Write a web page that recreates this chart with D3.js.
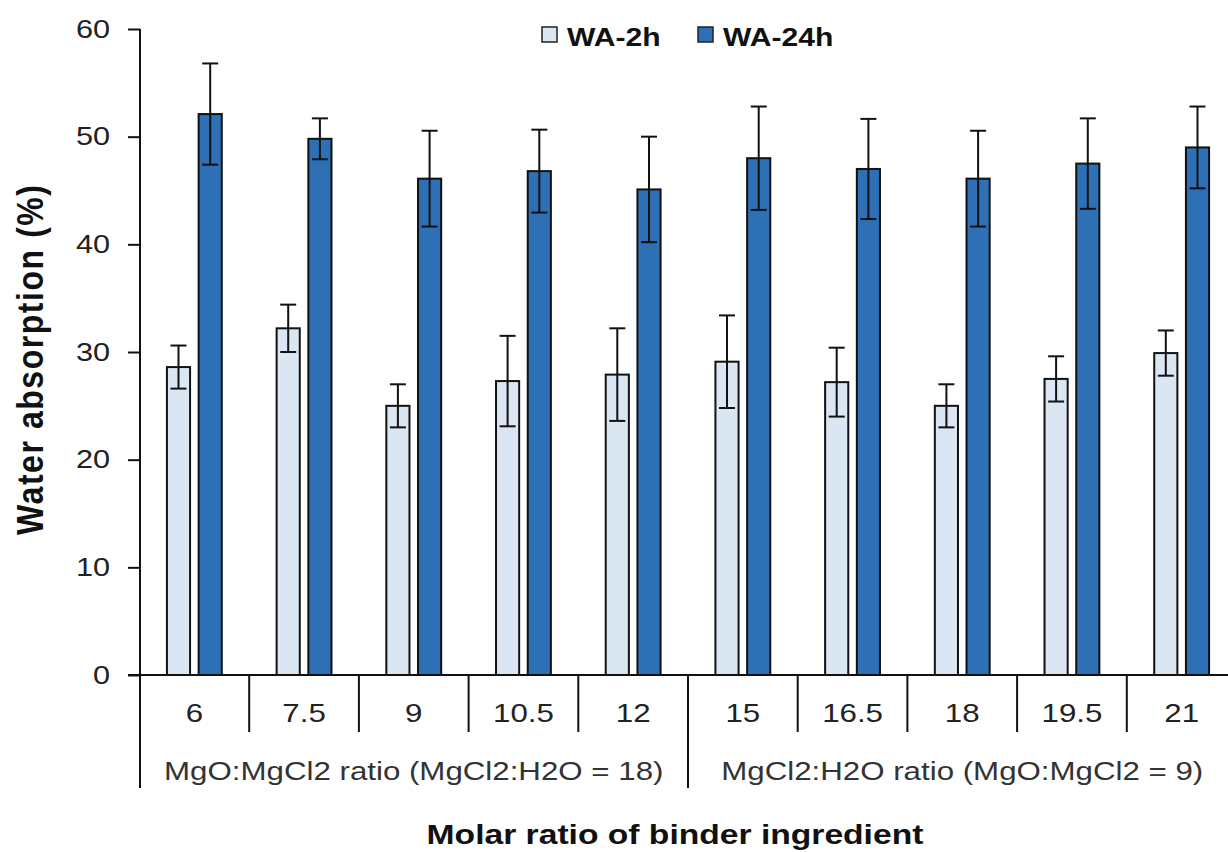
<!DOCTYPE html>
<html>
<head>
<meta charset="utf-8">
<script src="https://cdn.jsdelivr.net/npm/d3@7"></script>
<style>
  body { margin: 0; background: #fff; }
  svg { display: block; font-family: "Liberation Sans", Arial, sans-serif; }
</style>
</head>
<body>
<svg id="chart"></svg>
<script>
const categories = ["6", "7.5", "9", "10.5", "12", "15", "16.5", "18", "19.5", "21"];
const seriesNames = ["WA-2h", "WA-24h"];
const wa2h = [28.6, 32.2, 25.0, 27.3, 27.9, 29.1, 27.2, 25.0, 27.5, 29.9];
const wa2hErr = [2.0, 2.2, 2.0, 4.2, 4.3, 4.3, 3.2, 2.0, 2.1, 2.1];
const wa24h = [52.1, 49.8, 46.1, 46.8, 45.1, 48.0, 47.0, 46.1, 47.5, 49.0];
const wa24hErr = [4.7, 1.9, 4.45, 3.85, 4.9, 4.8, 4.65, 4.45, 4.2, 3.8];
const groupLabels = ["MgO:MgCl2 ratio (MgCl2:H2O = 18)", "MgCl2:H2O ratio (MgO:MgCl2 = 9)"];
const groupStarts = [0, 5];
const yTicks = [0, 10, 20, 30, 40, 50, 60];

const width = 1228, height = 852;
const colors = { "WA-2h": "#dbe6f3", "WA-24h": "#2e70b6" };
const sx = 1.18; // the source picture is stretched a bit horizontally

const svg = d3.select("#chart").attr("width", width).attr("height", height);

const x0 = d3.scaleBand()
    .domain(categories)
    .range([139.5, 1236.5])
    .paddingInner(0.5)
    .paddingOuter(0.25);

const x1 = d3.scaleBand()
    .domain(seriesNames)
    .range([0, x0.bandwidth()])
    .paddingInner(0.27);

const y = d3.scaleLinear().domain([0, 60]).range([675, 29]);

const rows = categories.map((c, i) => ({
    cat: c,
    values: [
        { key: "WA-2h", v: wa2h[i], e: wa2hErr[i] },
        { key: "WA-24h", v: wa24h[i], e: wa24hErr[i] }
    ]
}));

// bars
const grp = svg.append("g").selectAll("g")
    .data(rows)
    .join("g")
    .attr("transform", d => `translate(${x0(d.cat)},0)`);

grp.selectAll("rect")
    .data(d => d.values)
    .join("rect")
    .attr("x", d => x1(d.key))
    .attr("y", d => y(d.v))
    .attr("width", x1.bandwidth())
    .attr("height", d => y(0) - y(d.v))
    .attr("fill", d => colors[d.key])
    .attr("stroke", "#111")
    .attr("stroke-width", 2);

// error bars
const eb = grp.selectAll("g.err")
    .data(d => d.values)
    .join("g")
    .attr("class", "err")
    .attr("transform", d => `translate(${x1(d.key) + x1.bandwidth() / 2},0)`)
    .attr("stroke", "#111")
    .attr("stroke-width", 2);
eb.append("line").attr("y1", d => y(d.v + d.e)).attr("y2", d => y(d.v - d.e));
eb.append("line").attr("x1", -8).attr("x2", 8).attr("y1", d => y(d.v + d.e)).attr("y2", d => y(d.v + d.e));
eb.append("line").attr("x1", -8).attr("x2", 8).attr("y1", d => y(d.v - d.e)).attr("y2", d => y(d.v - d.e));

// y axis
const yAxis = svg.append("g")
    .attr("transform", "translate(140,0)")
    .call(d3.axisLeft(y).tickValues(yTicks).tickSize(12).tickSizeOuter(0).tickPadding(18));
yAxis.select(".domain").remove();
yAxis.selectAll(".tick line").attr("stroke", "#111").attr("stroke-width", 2);
yAxis.selectAll(".tick text")
    .attr("fill", "#222")
    .style("font-size", "26px")
    .attr("x", -30 / sx)
    .attr("transform", `scale(${sx},1)`);
svg.append("line")
    .attr("x1", 140).attr("x2", 140)
    .attr("y1", y(60)).attr("y2", 788)
    .attr("stroke", "#111").attr("stroke-width", 2);

// x axis (category labels)
const xAxis = svg.append("g")
    .attr("transform", `translate(0,${y(0)})`)
    .call(d3.axisBottom(x0).tickSize(0).tickPadding(0));
xAxis.select(".domain").remove();
xAxis.selectAll(".tick text")
    .attr("fill", "#222")
    .style("font-size", "26.5px")
    .attr("y", 47)
    .attr("dy", 0)
    .attr("transform", `scale(${sx},1)`);
svg.append("line")
    .attr("x1", 128).attr("x2", width)
    .attr("y1", y(0)).attr("y2", y(0))
    .attr("stroke", "#111").attr("stroke-width", 2);

// separators between categories
const step = x0.step();
const left = x0.range()[0];
svg.append("g").selectAll("line")
    .data(categories.slice(1).map((c, i) => i + 1))
    .join("line")
    .attr("x1", k => left + k * step).attr("x2", k => left + k * step)
    .attr("y1", y(0))
    .attr("y2", k => groupStarts.includes(k) ? 788 : 732)
    .attr("stroke", "#111").attr("stroke-width", 2);

// group labels
svg.append("g").selectAll("text")
    .data(groupLabels)
    .join("text")
    .attr("transform", (d, i) => {
        const a = left + groupStarts[i] * step;
        const endIdx = i + 1 < groupStarts.length ? groupStarts[i + 1] : categories.length;
        const b = left + endIdx * step;
        return `translate(${(a + b) / 2},780) scale(${sx},1)`;
    })
    .attr("text-anchor", "middle")
    .attr("fill", "#333")
    .style("font-size", "26.5px")
    .text(d => d);

// axis titles
svg.append("text")
    .attr("transform", `translate(675,844) scale(${sx},1)`)
    .attr("text-anchor", "middle")
    .style("font-size", "28.5px")
    .style("font-weight", "bold")
    .attr("fill", "#111")
    .text("Molar ratio of binder ingredient");

svg.append("text")
    .attr("transform", `translate(43,360) scale(${sx},1) rotate(-90)`)
    .attr("text-anchor", "middle")
    .style("font-size", "32px")
    .style("font-weight", "bold")
    .attr("fill", "#111")
    .attr("textLength", 350)
    .attr("lengthAdjust", "spacing")
    .text("Water absorption (%)");

// legend
const legendX = [542, 698];
const leg = svg.append("g").selectAll("g")
    .data(seriesNames)
    .join("g")
    .attr("transform", (d, i) => `translate(${legendX[i]},27)`);
leg.append("rect")
    .attr("width", 15).attr("height", 15)
    .attr("fill", d => colors[d])
    .attr("stroke", "#222").attr("stroke-width", 1.5);
leg.append("text")
    .attr("transform", `translate(25,19) scale(${sx},1)`)
    .style("font-size", "25.5px")
    .style("font-weight", "bold")
    .attr("fill", "#111")
    .text(d => d);
</script>
</body>
</html>
